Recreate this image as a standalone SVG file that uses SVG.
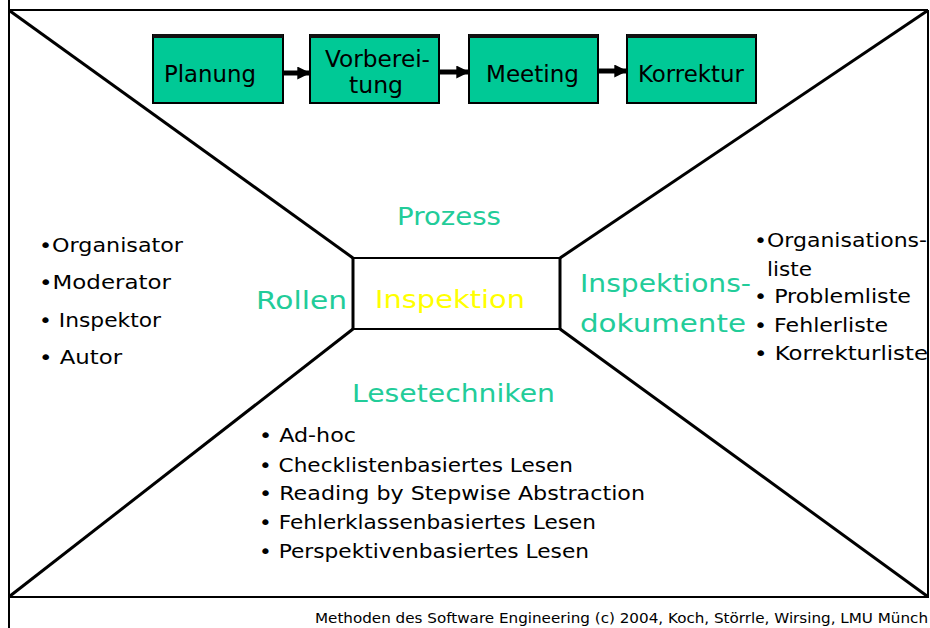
<svg xmlns="http://www.w3.org/2000/svg" width="930" height="628" viewBox="0 0 930 628">
<defs>
<style>
.frame{stroke:#000;fill:none;stroke-width:2}
.diag{stroke:#000;fill:none;stroke-width:3}
.step rect{fill:#00c996;stroke:#000;stroke-width:2}
.step line{stroke:#111;stroke-width:4}
.st{font-family:"DejaVu Sans","Liberation Sans",sans-serif;font-size:23px;fill:#000;text-anchor:start}
.ttl{font-family:"DejaVu Sans","Liberation Sans",sans-serif;font-size:25px;fill:#22cc99}
.lst{font-family:"DejaVu Sans","Liberation Sans",sans-serif;font-size:19px;fill:#000}
.ft{font-family:"DejaVu Sans","Liberation Sans",sans-serif;font-size:14px;fill:#000}
.conn{stroke:#000;stroke-width:5;fill:none}
</style>
<marker id="ah" viewBox="0 0 10 10" refX="9" refY="5" markerWidth="2.6" markerHeight="2.6" orient="auto" markerUnits="strokeWidth">
<path d="M0,0 L10,5 L0,10 z" fill="#000"/>
</marker>
</defs>
<rect x="0" y="0" width="930" height="628" fill="#fff"/>
<g id="frame">
<line class="frame" x1="9" y1="0" x2="9" y2="628"/>
<line class="frame" x1="9" y1="10" x2="928" y2="10"/>
<line class="frame" x1="928" y1="10" x2="928" y2="598"/>
<line class="frame" x1="9" y1="597" x2="928" y2="597"/>
<line class="diag" x1="10" y1="11" x2="353" y2="258"/>
<line class="diag" x1="927" y1="11" x2="560" y2="258"/>
<line class="diag" x1="10" y1="596" x2="353" y2="329"/>
<line class="diag" x1="927" y1="596" x2="560" y2="329"/>
</g>
<g id="center">
<line x1="353" y1="258" x2="560" y2="258" stroke="#000" stroke-width="2"/>
<line x1="353" y1="329" x2="560" y2="329" stroke="#000" stroke-width="2"/>
<line x1="353" y1="257" x2="353" y2="330" stroke="#000" stroke-width="3"/>
<line x1="560" y1="257" x2="560" y2="330" stroke="#000" stroke-width="3"/>
<text x="375" y="308" font-family="DejaVu Sans, Liberation Sans, sans-serif" font-size="25" fill="#ffff00" textLength="150" lengthAdjust="spacingAndGlyphs">Inspektion</text>
</g>
<g id="planung" class="step">
<rect x="153" y="35" width="130" height="68"/>
<line x1="153" y1="36" x2="283" y2="36"/>
<text class="st" x="164" y="82" textLength="92" lengthAdjust="spacingAndGlyphs">Planung</text>
</g>
<g id="vorbereitung" class="step">
<rect x="310" y="35" width="129" height="68"/>
<line x1="310" y1="36" x2="439" y2="36"/>
<text class="st" x="325" y="67" textLength="105" lengthAdjust="spacingAndGlyphs">Vorberei-</text>
<text class="st" x="349" y="93" textLength="54" lengthAdjust="spacingAndGlyphs">tung</text>
</g>
<g id="meeting" class="step">
<rect x="469" y="35" width="129" height="68"/>
<line x1="469" y1="36" x2="598" y2="36"/>
<text class="st" x="486" y="82" textLength="93" lengthAdjust="spacingAndGlyphs">Meeting</text>
</g>
<g id="korrektur" class="step">
<rect x="627" y="35" width="129" height="68"/>
<line x1="627" y1="36" x2="756" y2="36"/>
<text class="st" x="638" y="82" textLength="106" lengthAdjust="spacingAndGlyphs">Korrektur</text>
</g>
<g id="connectors">
<line class="conn" x1="284" y1="73" x2="309" y2="73" marker-end="url(#ah)"/>
<line class="conn" x1="440" y1="72" x2="468" y2="72" marker-end="url(#ah)"/>
<line class="conn" x1="599" y1="71" x2="626" y2="71" marker-end="url(#ah)"/>
</g>
<g id="prozess">
<text class="ttl" x="397" y="225" textLength="104" lengthAdjust="spacingAndGlyphs">Prozess</text>
</g>
<g id="rollen">
<text class="ttl" x="256" y="309" textLength="91" lengthAdjust="spacingAndGlyphs">Rollen</text>
<text class="lst" x="39" y="252" textLength="144" lengthAdjust="spacingAndGlyphs">•Organisator</text>
<text class="lst" x="39" y="289" textLength="132" lengthAdjust="spacingAndGlyphs">•Moderator</text>
<text class="lst" x="39" y="327" textLength="122" lengthAdjust="spacingAndGlyphs">• Inspektor</text>
<text class="lst" x="39" y="364" textLength="83" lengthAdjust="spacingAndGlyphs">• Autor</text>
</g>
<g id="dokumente">
<text class="ttl" x="580" y="292" textLength="171" lengthAdjust="spacingAndGlyphs">Inspektions-</text>
<text class="ttl" x="580" y="332" textLength="166" lengthAdjust="spacingAndGlyphs">dokumente</text>
<text class="lst" x="754" y="247" textLength="173" lengthAdjust="spacingAndGlyphs">•Organisations-</text>
<text class="lst" x="767" y="276" textLength="45" lengthAdjust="spacingAndGlyphs">liste</text>
<text class="lst" x="754" y="303" textLength="157" lengthAdjust="spacingAndGlyphs">• Problemliste</text>
<text class="lst" x="754" y="332" textLength="134" lengthAdjust="spacingAndGlyphs">• Fehlerliste</text>
<text class="lst" x="754" y="360" textLength="174" lengthAdjust="spacingAndGlyphs">• Korrekturliste</text>
</g>
<g id="lesetechniken">
<text class="ttl" x="352" y="402" textLength="203" lengthAdjust="spacingAndGlyphs">Lesetechniken</text>
<text class="lst" x="259" y="442" textLength="97" lengthAdjust="spacingAndGlyphs">• Ad-hoc</text>
<text class="lst" x="259" y="472" textLength="314" lengthAdjust="spacingAndGlyphs">• Checklistenbasiertes Lesen</text>
<text class="lst" x="259" y="500" textLength="386" lengthAdjust="spacingAndGlyphs">• Reading by Stepwise Abstraction</text>
<text class="lst" x="259" y="529" textLength="337" lengthAdjust="spacingAndGlyphs">• Fehlerklassenbasiertes Lesen</text>
<text class="lst" x="259" y="558" textLength="330" lengthAdjust="spacingAndGlyphs">• Perspektivenbasiertes Lesen</text>
</g>
<g id="footer">
<text class="ft" x="315" y="623" textLength="613" lengthAdjust="spacingAndGlyphs">Methoden des Software Engineering (c) 2004, Koch, Störrle, Wirsing, LMU Münch</text>
</g>
</svg>
